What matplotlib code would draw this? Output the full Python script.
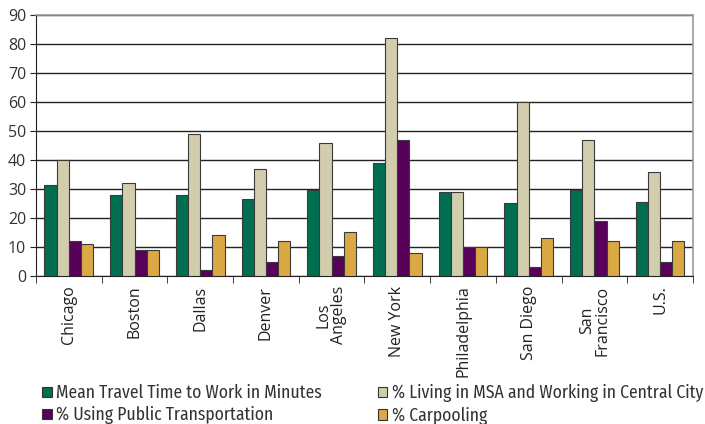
import matplotlib
matplotlib.use("Agg")
import matplotlib.pyplot as plt
import numpy as np
from matplotlib.patches import Patch
from matplotlib import font_manager

categories = ["Chicago", "Boston", "Dallas", "Denver", "Los\nAngeles", "New York",
              "Philadelphia", "San Diego", "San\nFrancisco", "U.S."]
mean_travel = [31.5, 28, 28, 26.5, 29.5, 39, 29, 25, 29.5, 25.5]
living_msa = [40, 32, 49, 37, 46, 82, 29, 60, 47, 36]
public_trans = [12, 9, 2, 5, 7, 47, 10, 3, 19, 5]
carpooling = [11, 9, 14, 12, 15, 8, 10, 13, 12, 12]
series_names = ["Mean Travel Time to Work in Minutes",
                "% Living in MSA and Working in Central City",
                "% Using Public Transportation",
                "% Carpooling"]
colors = ["#006f51", "#d1cdad", "#58005a", "#dba944"]

available = set(f.name for f in font_manager.fontManager.ttflist)
def pick(cands):
    for c in cands:
        if c in available:
            return c
    return "DejaVu Sans"
tick_font = pick(["Open Sans", "Noto Sans", "DejaVu Sans"])
leg_font = pick(["Fira Sans Condensed", "Roboto Condensed", "PT Sans Narrow",
                 "Liberation Sans Narrow", "DejaVu Sans"])

fig = plt.figure(figsize=(7.05, 4.24), dpi=100)
ax = fig.add_axes([0.051, 0.349, 0.932, 0.616])

x = np.arange(len(categories))
w = 0.185
data = [mean_travel, living_msa, public_trans, carpooling]
for i, (vals, c) in enumerate(zip(data, colors)):
    ax.bar(x + (i - 1.5) * w, vals, width=w, color=c, edgecolor="#3a3a3a",
           linewidth=0.8, zorder=3)

ax.set_xlim(-0.5, len(categories) - 0.5)
ax.set_ylim(0, 90)
ax.set_yticks(range(0, 91, 10))
ax.yaxis.grid(True, color="#222222", linewidth=1.0, zorder=0)
ax.tick_params(axis="y", labelsize=11.5, length=4, direction="out", color="#222222",
               labelcolor="#333333", pad=3)
for lab in ax.get_yticklabels():
    lab.set_fontfamily(tick_font)
ax.set_xticks(x)
ax.set_xticklabels(categories, rotation=90, fontsize=11.5, color="#222222",
                   va="top", ha="center", multialignment="center",
                   fontfamily=tick_font, linespacing=0.95)
ax.tick_params(axis="x", length=0, pad=7)
ax.set_xticks(np.arange(-0.5, len(categories), 1), minor=True)
ax.tick_params(axis="x", which="minor", length=5, color="#222222")
for s in ["top", "right"]:
    ax.spines[s].set_color("#999999")
    ax.spines[s].set_linewidth(1.2)
ax.spines["left"].set_color("#222222")
ax.spines["bottom"].set_color("#222222")

order = [0, 2, 1, 3]
handles = [Patch(facecolor=colors[i], edgecolor="#333333", linewidth=0.8) for i in order]
labels = [series_names[i] for i in order]
fig.legend(handles, labels, loc="upper left", bbox_to_anchor=(42 / 705, 1 - 384 / 424),
           ncol=2, frameon=False, borderpad=0, borderaxespad=0,
           handlelength=0.56, handleheight=0.56,
           handletextpad=0.25, columnspacing=3.15, labelspacing=0.25,
           prop={"family": leg_font, "size": 12.7}, labelcolor="#333333")

fig.savefig("out.png", dpi=100)
